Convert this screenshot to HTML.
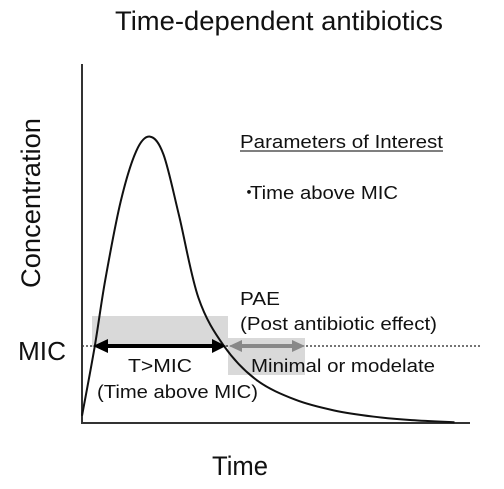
<!DOCTYPE html>
<html><head><meta charset="utf-8"><style>
body{margin:0;background:#fff;width:504px;height:484px;overflow:hidden}
svg text{font-family:"Liberation Sans",sans-serif;fill:#111}
</style></head><body>
<svg id="chart" width="504" height="484" viewBox="0 0 504 484" xmlns="http://www.w3.org/2000/svg">
<text x="115" y="30" font-size="27" textLength="328" lengthAdjust="spacingAndGlyphs">Time-dependent antibiotics</text>
<text transform="translate(40,288) rotate(-90)" font-size="27" textLength="170" lengthAdjust="spacingAndGlyphs">Concentration</text>
<text x="212" y="475" font-size="27" textLength="56" lengthAdjust="spacingAndGlyphs">Time</text>
<text x="18" y="360" font-size="26" textLength="48" lengthAdjust="spacingAndGlyphs">MIC</text>
<g id="boxes"></g>
<line x1="82" y1="346" x2="482" y2="346" stroke="#222" stroke-width="1.3" stroke-dasharray="2,2"/>
<line x1="82" y1="64" x2="82" y2="424" stroke="#333" stroke-width="2"/>
<line x1="82" y1="423" x2="470" y2="423" stroke="#333" stroke-width="2"/>
<path id="curve" fill="none" stroke="#111" stroke-width="2"/>
<g>
<line x1="104" y1="346" x2="216" y2="346" stroke="#000" stroke-width="4"/>
<polygon points="93,346 108,339 108,353" fill="#000"/>
<polygon points="226,346 212,339 212,353" fill="#000"/>
</g>
<g>
<line x1="238" y1="346" x2="296" y2="346" stroke="#888" stroke-width="4"/>
<polygon points="229,346 242,340 242,352" fill="#888"/>
<polygon points="305,346 292,340 292,352" fill="#888"/>
</g>
<text x="240" y="148" font-size="18" textLength="203" lengthAdjust="spacingAndGlyphs">Parameters of Interest</text>
<line x1="240" y1="151" x2="443" y2="151" stroke="#333" stroke-width="1.2"/>
<text x="240" y="199" font-size="18">・</text>
<text x="250" y="199" font-size="18" textLength="148" lengthAdjust="spacingAndGlyphs">Time above MIC</text>
<text x="240" y="305" font-size="18" textLength="40" lengthAdjust="spacingAndGlyphs">PAE</text>
<text x="240" y="330" font-size="18" textLength="197" lengthAdjust="spacingAndGlyphs">(Post antibiotic effect)</text>
<text x="128" y="372" font-size="18" textLength="64" lengthAdjust="spacingAndGlyphs">T&gt;MIC</text>
<text x="97" y="398" font-size="18" textLength="161" lengthAdjust="spacingAndGlyphs">(Time above MIC)</text>
<text x="251" y="372" font-size="18" textLength="184" lengthAdjust="spacingAndGlyphs">Minimal or modelate</text>
</svg>
<script>
const times=[0,0.33,0.6,1.0,1.4,1.75,2.1,2.5,3.0,3.66,4.5,5.5,6.5,7.5,8.5,9.6];
const concentrations=[2,21.5,40,62,76,80,75,58,35,21.5,12,6.5,3.5,1.8,0.8,0.2];
const micValue=21.5;
const xs=t=>82+t/10*388, ys=c=>423-c/100*358;
const pts=times.map((t,i)=>[xs(t),ys(concentrations[i])]);
let d='M'+pts[0][0]+','+pts[0][1];
for(let i=0;i<pts.length-1;i++){
 const p0=pts[Math.max(0,i-1)],p1=pts[i],p2=pts[i+1],p3=pts[Math.min(pts.length-1,i+2)];
 const c1=[p1[0]+(p2[0]-p0[0])/6,p1[1]+(p2[1]-p0[1])/6],c2=[p2[0]-(p3[0]-p1[0])/6,p2[1]-(p3[1]-p1[1])/6];
 d+=` C${c1[0]},${c1[1]} ${c2[0]},${c2[1]} ${p2[0]},${p2[1]}`;
}
document.getElementById('curve').setAttribute('d',d);
const ns='http://www.w3.org/2000/svg',g=document.getElementById('boxes');
function rect(x,y,w,h,name){const r=document.createElementNS(ns,'rect');
r.setAttribute('x',x);r.setAttribute('y',y);r.setAttribute('width',w);r.setAttribute('height',h);r.setAttribute('fill','#d9d9d9');


g.appendChild(r);}
rect(92,316,136,31,'t-above-mic-box');
rect(228,338,77,37,'pae-box');
</script>
</body></html>
